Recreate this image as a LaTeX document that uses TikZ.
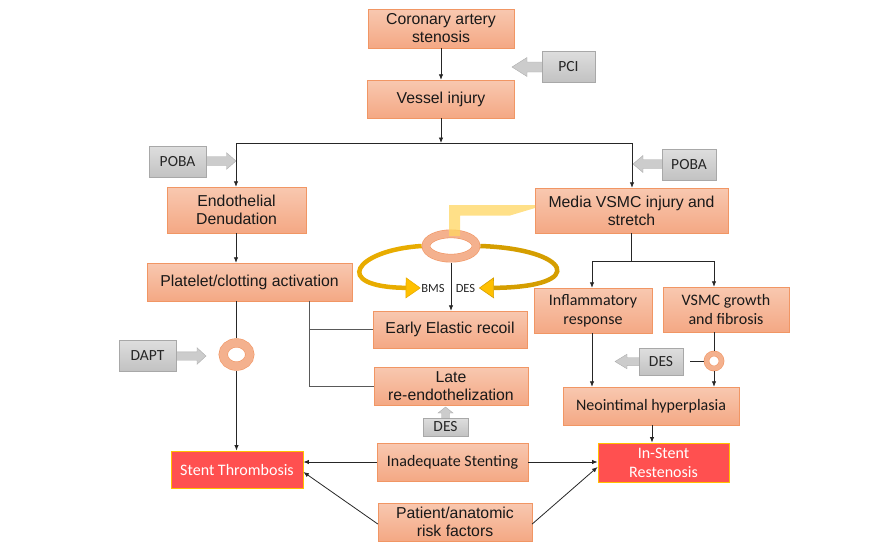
\documentclass[tikz,border=0pt]{standalone}
\usepackage{fontspec}
\setmainfont{Liberation Sans}
\newfontfamily\calibri{Carlito}
\usetikzlibrary{arrows.meta,shapes.geometric,backgrounds}

\definecolor{salmonTop}{RGB}{248,200,176}
\definecolor{salmonBot}{RGB}{244,168,132}
\definecolor{salmonLine}{RGB}{241,150,100}
\definecolor{ringFill}{RGB}{244,177,142}
\definecolor{greyTop}{RGB}{222,222,222}
\definecolor{greyBot}{RGB}{194,194,194}
\definecolor{greyLine}{RGB}{168,168,168}
\definecolor{greyArrow}{RGB}{204,204,204}
\definecolor{stentRed}{RGB}{255,80,80}
\definecolor{stentEdge}{RGB}{255,192,0}
\definecolor{goldLoop}{RGB}{232,172,0}
\definecolor{goldTip}{RGB}{255,192,0}
\definecolor{paleYellow}{RGB}{255,214,96}

\begin{document}
\begin{tikzpicture}[x=1pt, y=-1pt, >={Latex[length=5.5pt,width=4.5pt]},
    main box/.style={draw=salmonLine, top color=salmonTop, bottom color=salmonBot,
      inner sep=0pt, align=center, text=black!90, font=\fontsize{15.8}{18}\selectfont},
    calibri box/.style={main box, font=\calibri\fontsize{16}{19}\selectfont},
    red box/.style={draw=stentEdge, fill=stentRed, line width=0.9pt, inner sep=0pt,
      align=center, text=white, font=\calibri\fontsize{16}{19}\selectfont},
    grey box/.style={draw=greyLine, top color=greyTop, bottom color=greyBot,
      inner sep=0pt, text=black!85, font=\calibri\fontsize{15.5}{18}\selectfont},
    grey arrow/.style={fill=greyArrow, draw=greyArrow!85!black, line width=0.4pt},
    ring node/.style={ellipse, draw=salmonLine, double=ringFill, fill=white,
      line width=0.6pt, inner sep=0pt},
    stent label/.style={inner sep=0.5pt, text=black!85, font=\calibri\fontsize{12.5}{14}\selectfont},
    link/.style={draw=black!85, line width=0.8pt}]

  \useasboundingbox (0,0) rectangle (870,544);

  % top of the cascade
  \node[main box, minimum width=146, minimum height=39] (coronary) at (441,28.5) {Coronary artery\\stenosis};
  \node[main box, minimum width=147, minimum height=38] (vessel) at (441,99) {Vessel injury};
  \node[grey box, minimum width=53, minimum height=31] (pci) at (568.5,66.5) {PCI};
  \node[grey box, minimum width=57, minimum height=31] (pobaL) at (177.5,161.5) {POBA};
  \node[grey box, minimum width=54, minimum height=31] (pobaR) at (689,164.5) {POBA};

  % two branches
  \node[main box, minimum width=139, minimum height=46] (endo) at (236.5,210) {Endothelial\\Denudation};
  \node[main box, minimum width=193, minimum height=45] (media) at (631.5,210.5) {Media VSMC injury and\\stretch};
  \node[main box, minimum width=205, minimum height=38] (platelet) at (249.5,282) {Platelet/clotting activation};
  \node[calibri box, minimum width=118, minimum height=45] (inflam) at (593,310.5) {Inflammatory\\response};
  \node[calibri box, minimum width=126, minimum height=45] (growth) at (726,309.5) {VSMC growth\\and fibrosis};

  % middle column
  \node[ring node, minimum width=50, minimum height=24.4, double distance=7.4pt, outer sep=4.3pt] (ringA) at (451,246) {};
  \node[stent label] (bms) at (433,288) {BMS};
  \node[stent label] (des) at (465.5,288) {DES};
  \node[main box, minimum width=154, minimum height=37] (early) at (450,329.5) {Early Elastic recoil};
  \node[main box, minimum width=154, minimum height=38] (late) at (451,386) {Late\\re-endothelization};
  \node[grey box, minimum width=45, minimum height=18] (desB) at (445.5,427) {DES};

  % left column
  \node[ring node, minimum width=26.6, minimum height=23.2, double distance=8pt, outer sep=4.6pt] (ringD) at (236.5,354.5) {};
  \node[grey box, minimum width=57, minimum height=31] (dapt) at (147.5,355.5) {DAPT};
  \node[red box, minimum width=132, minimum height=37] (thromb) at (237,469.5) {Stent Thrombosis};

  % right column
  \node[ring node, minimum width=15, minimum height=15, double distance=4.4pt, outer sep=2.8pt] (ringV) at (714,361) {};
  \node[grey box, minimum width=44, minimum height=27] (desR) at (661,361.5) {DES};
  \node[calibri box, minimum width=176, minimum height=38] (neo) at (651,406) {Neointimal hyperplasia};
  \node[red box, minimum width=131, minimum height=39] (resten) at (663.5,462.5) {In-Stent\\Restenosis};

  % bottom
  \node[calibri box, minimum width=151, minimum height=38] (inadeq) at (452.5,462) {Inadequate Stenting};
  \node[main box, minimum width=154, minimum height=38] (patient) at (455,522) {Patient/anatomic\\risk factors};

  \coordinate (split) at (441,143);
  \coordinate (splitL) at (236,143);
  \coordinate (splitR) at (632,143);
  \coordinate (pbranch) at ([xshift=59.5pt]platelet.south);
  \coordinate (desTail) at (690,361);

  \draw[link,->] (coronary) -- (vessel);
  \draw[link,->] (vessel) -- (split);
  \draw[link] (splitL) -- (splitR);
  \draw[link,->] (splitL) -- (splitL |- endo.north);
  \draw[link,->] (splitR) -- (splitR |- media.north);
  \draw[link,->] (endo.south -| splitL) -- (splitL |- platelet.north);
  \draw[link] (ringD.north |- platelet.south) -- (ringD);
  \draw[link,->] (ringD) -- (ringD |- thromb.north);
  \draw[link, draw=black!65] (pbranch) |- (early.west);
  \draw[link, draw=black!65] (pbranch) |- (late.west);
  \draw[link,->] (ringA) -- (ringA |- early.north);
  \draw[link] (media.south) -- ++(0,28) coordinate (msplit);
  \draw[link,->] (msplit) -| ([xshift=-1pt]inflam.north);
  \draw[link,->] (msplit) -| ([xshift=-12pt]growth.north);
  \draw[link] (growth.south -| ringV) -- (ringV);
  \draw[link,->] (ringV) -- (ringV |- neo.north);
  \draw[link] (ringV) -- (desTail);
  \draw[link,->] ([xshift=-1pt]inflam.south) -- ([xshift=-1pt]inflam.south |- neo.north);
  \draw[link,->] ([xshift=1pt]neo.south) -- ([xshift=1pt]neo.south |- resten.north);
  \draw[link,->] (inadeq.west) -- (inadeq.west -| thromb.east);
  \draw[link,->] (inadeq.east) -- (inadeq.east -| resten.west);
  \draw[link,->] ([yshift=-2pt]patient.west) -- ([yshift=-2.5pt]thromb.east);
  \draw[link,->] ([yshift=-2pt]patient.east) -- ([yshift=-4.5pt]resten.west);

  \begin{scope}[on background layer]
    % stent loops
    \draw[goldLoop, line width=4.5pt,
      -{Triangle[length=15pt,width=21pt,line width=0.6pt,fill=goldTip]}]
      (ringA.west) .. controls (355,250) and (330,287) .. (bms.west);
    \draw[goldLoop!92!black, line width=4.5pt,
      -{Triangle[length=15pt,width=21pt,line width=0.6pt,fill=goldTip]}]
      (ringA.east) .. controls (570,249) and (590,287) .. ([xshift=3pt]des.east);
    % block arrows of the grey labels
    \filldraw[grey arrow] (548,62) -- (527,62) -- (527,57.5) -- (512,67) -- (527,76.5) -- (527,72) -- (548,72) -- cycle;
    \filldraw[grey arrow] (200,156.5) -- (226.5,156.5) -- (226.5,152.7) -- (236,161) -- (226.5,169.3) -- (226.5,165.5) -- (200,165.5) -- cycle;
    \filldraw[grey arrow] (668,159.5) -- (643,159.5) -- (643,155.5) -- (633,164) -- (643,172.5) -- (643,168.5) -- (668,168.5) -- cycle;
    \filldraw[grey arrow] (170,351.8) -- (197,351.8) -- (197,347.7) -- (206,356) -- (197,364.3) -- (197,360.2) -- (170,360.2) -- cycle;
    \filldraw[grey arrow] (645,357.7) -- (627,357.7) -- (627,354.2) -- (615,361.5) -- (627,368.8) -- (627,365.3) -- (645,365.3) -- cycle;
    \filldraw[grey arrow] (441.5,425) -- (441.5,413) -- (438,413) -- (445.5,407) -- (453,413) -- (449.5,413) -- (449.5,425) -- cycle;
  \end{scope}

  % pale band from the media box to the ring
  \fill[paleYellow, opacity=0.75] (449,236) -- (449,205) -- (535,205) -- (535,208)
    -- (510,215.5) -- (460,215.5) -- (460,236) -- cycle;
\end{tikzpicture}
\end{document}
